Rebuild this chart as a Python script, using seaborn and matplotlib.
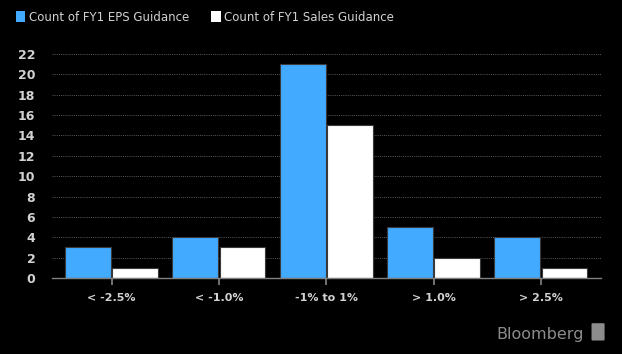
import matplotlib
matplotlib.use("Agg")
import matplotlib.pyplot as plt
import seaborn as sns
import pandas as pd
from matplotlib.patches import FancyBboxPatch

# data
categories = ["< -2.5%", "< -1.0%", "-1% to 1%", "> 1.0%", "> 2.5%"]
eps_counts = [3, 4, 21, 5, 4]
sales_counts = [1, 3, 15, 2, 1]
series_names = ["Count of FY1 EPS Guidance", "Count of FY1 Sales Guidance"]
y_ticks = list(range(0, 23, 2))

df = pd.DataFrame({
    "Range": categories * 2,
    "Count": eps_counts + sales_counts,
    "Series": [series_names[0]] * len(categories) + [series_names[1]] * len(categories),
})

BG = "#000000"
BLUE = "#42aaff"
TXT = "#d2d2d2"
GRID = "#5a5a5a"

sns.set_theme(style="dark")
plt.rcParams["font.family"] = ["DejaVu Sans"]

fig = plt.figure(figsize=(6.22, 3.54), dpi=100, facecolor=BG)
ax = fig.add_axes([0.0836, 0.2147, 0.8819, 0.6328])
ax.set_facecolor(BG)

sns.barplot(data=df, x="Range", y="Count", hue="Series", order=categories,
            hue_order=series_names, palette=[BLUE, "#ffffff"], width=0.88, gap=0.03,
            saturation=1, edgecolor="#3a3a3a", linewidth=0.8, ax=ax, legend=False)

ax.set_xlim(-0.555, 4.555)
ax.set_ylim(0, 22)
ax.set_yticks(y_ticks)
ax.set_yticklabels([str(t) for t in y_ticks], color=TXT, fontsize=9, fontweight="bold")
ax.set_xticks(range(len(categories)))
ax.set_xticklabels(categories, color=TXT, fontsize=8, fontweight="bold")
ax.set_xlabel("")
ax.set_ylabel("")

ax.grid(False)
ax.yaxis.grid(True, color=GRID, linestyle=(0, (1, 1.2)), linewidth=0.7)
ax.set_axisbelow(True)
for s in ["top", "right", "left"]:
    ax.spines[s].set_visible(False)
ax.spines["bottom"].set_color("#808080")
ax.spines["bottom"].set_linewidth(1.0)
ax.tick_params(axis="x", bottom=True, length=5, color="#808080", pad=6)
ax.tick_params(axis="y", left=False, pad=6)

# legend at the top left
handles = [plt.Rectangle((0, 0), 1, 1, facecolor=BLUE, edgecolor="none"),
           plt.Rectangle((0, 0), 1, 1, facecolor="#ffffff", edgecolor="none")]
fig.legend(handles, series_names, loc="upper left", bbox_to_anchor=(0.008, 1.0),
           ncol=2, frameon=False, handlelength=0.8, handleheight=1.1,
           handletextpad=0.3, columnspacing=1.9,
           prop={"size": 8.5}, labelcolor=TXT)

# Bloomberg mark
fig.text(0.938, 0.035, "Bloomberg", color="#8c8c8c", fontsize=11.5, ha="right", va="bottom")
fig.patches.append(FancyBboxPatch((0.953, 0.04), 0.017, 0.045, boxstyle="round,pad=0.002",
                                  transform=fig.transFigure, facecolor="#8c8c8c",
                                  edgecolor="none", figure=fig))

fig.savefig("out.png", dpi=100, facecolor=BG)
